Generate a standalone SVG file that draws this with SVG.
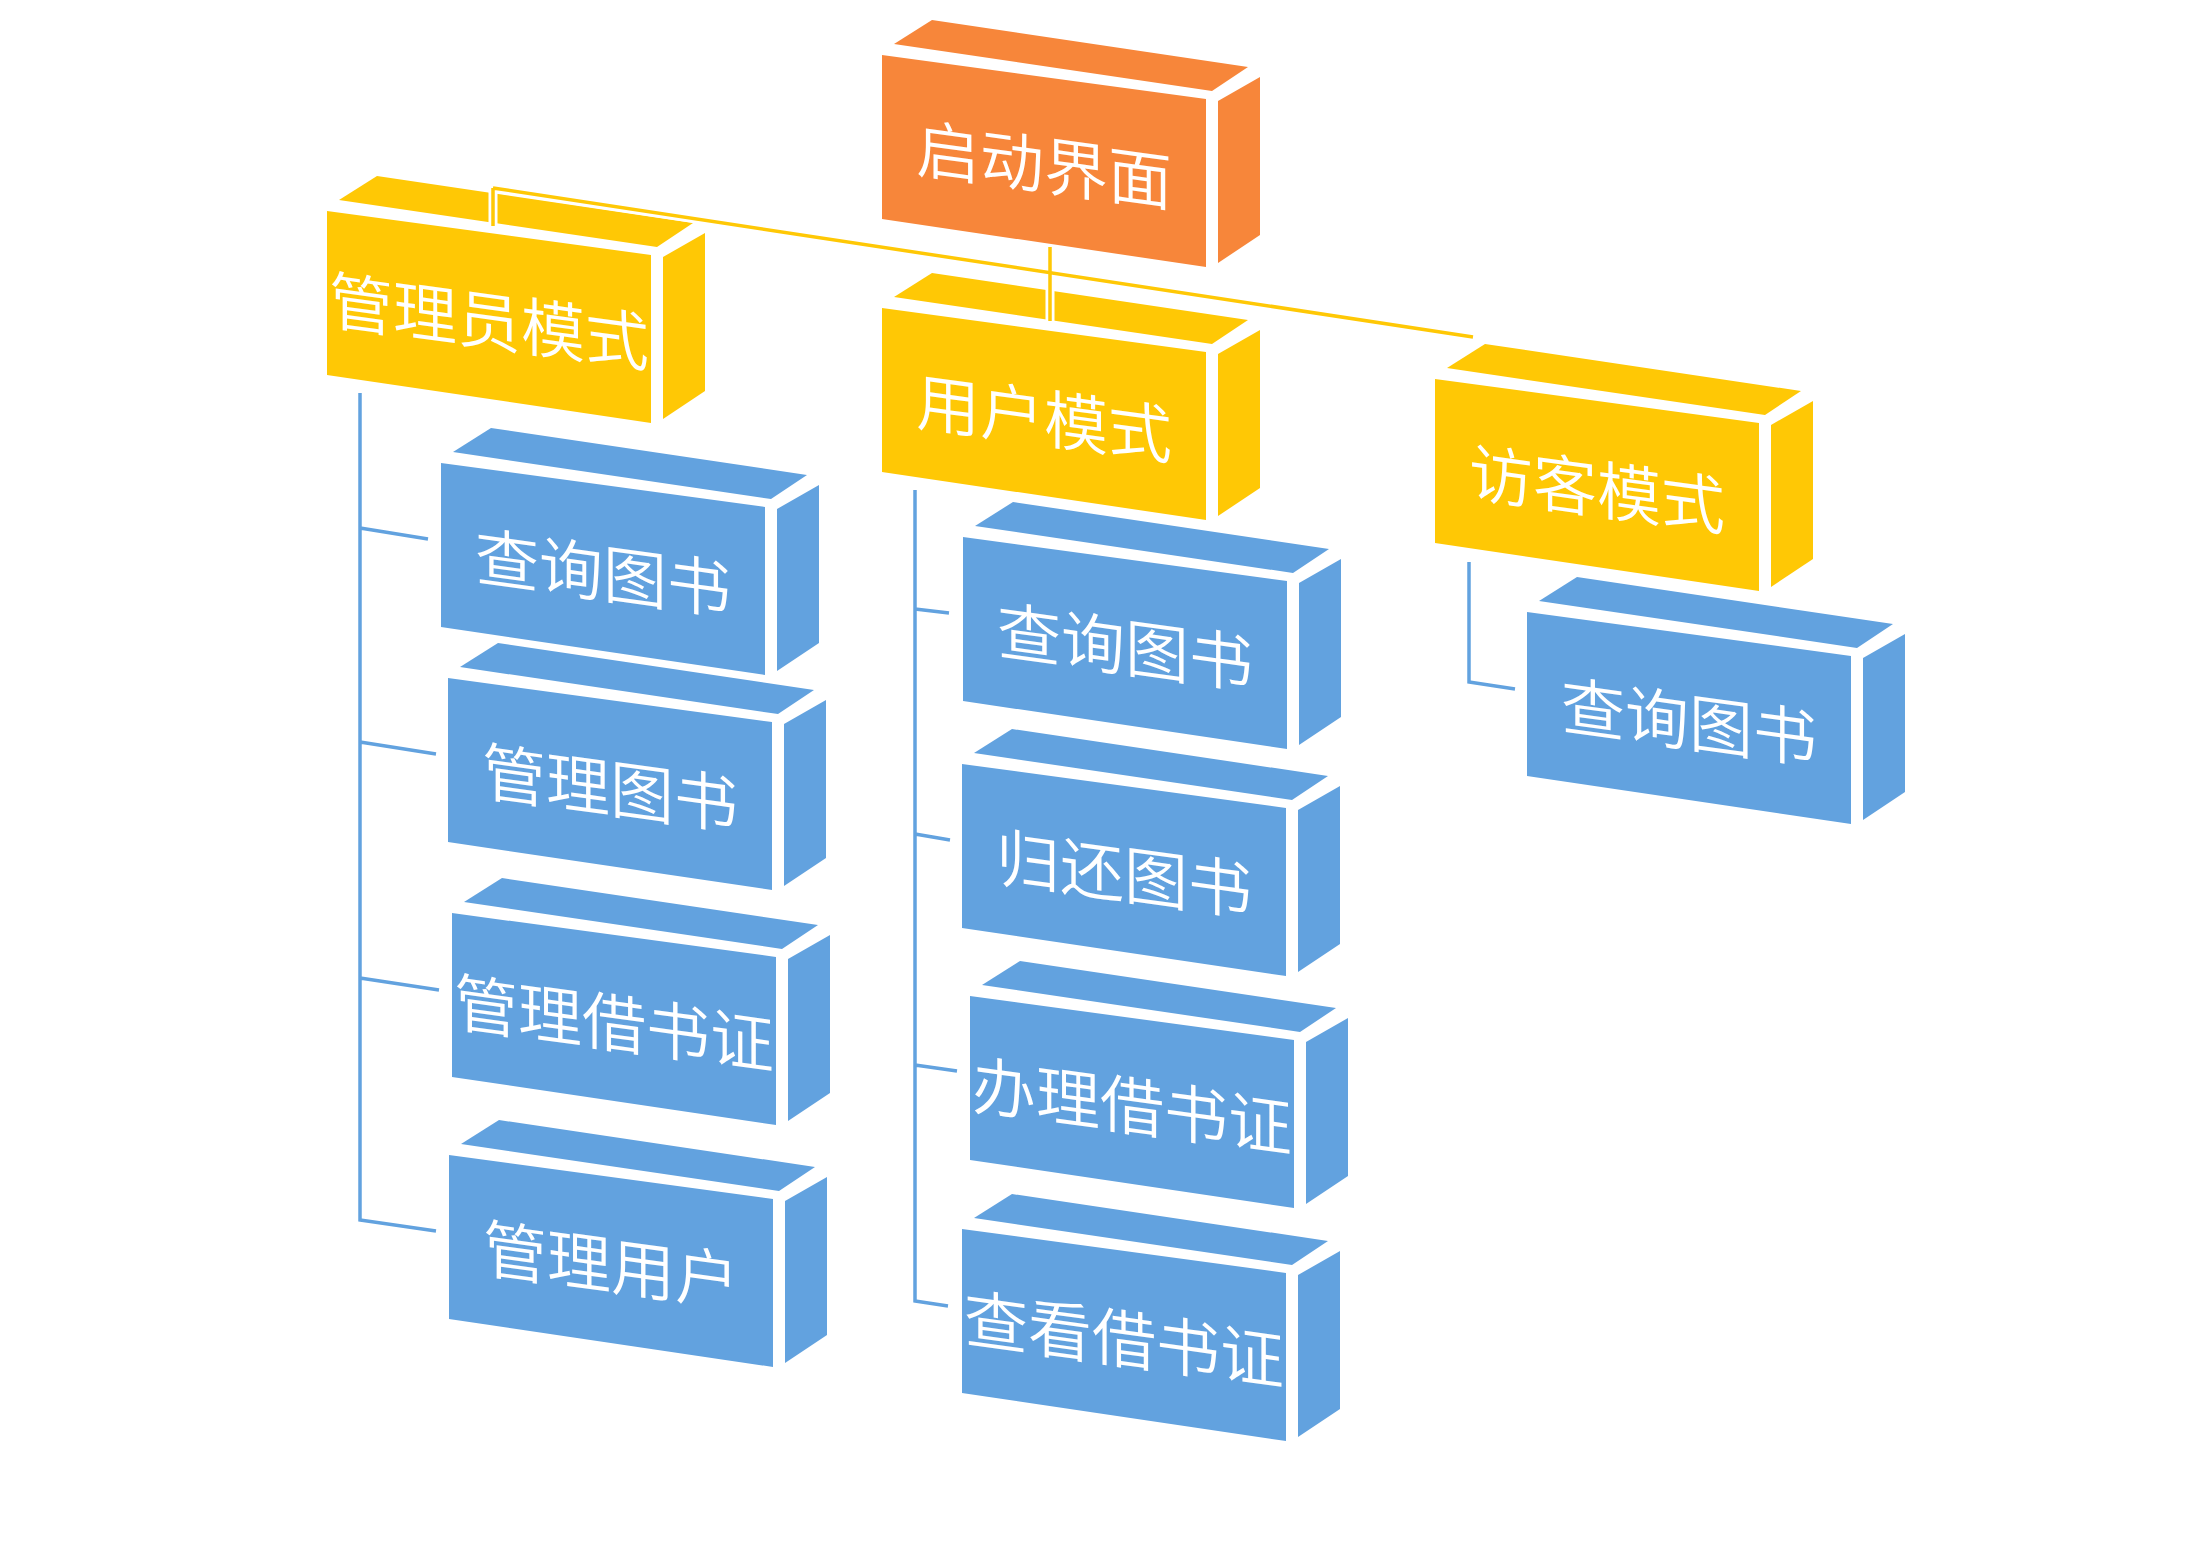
<svg xmlns="http://www.w3.org/2000/svg" xmlns:xlink="http://www.w3.org/1999/xlink" width="2193" height="1551" viewBox="0 0 2193 1551">
<style>
.lbl{font-family:"Noto Sans CJK SC","Noto Sans",sans-serif;font-size:64px;font-weight:350;fill:#FFFFFF;text-anchor:middle;dominant-baseline:central}
.orange{fill:#F7863A}
.yellow{fill:#FFC805}
.blue{fill:#62A2DF}
.halo{fill:#FFFFFF;stroke:#FFFFFF;stroke-width:12;stroke-linejoin:round}
.ylink{fill:none;stroke:#FFC805;stroke-width:3.5}
.blink{fill:none;stroke:#62A2DF;stroke-width:3.5}
.wlink{fill:none;stroke:#FFFFFF;stroke-width:9}
</style>
<defs>
<g id="box">
<polygon class="halo" points="0,0 12,-11 50,-35 366,12 378,22 378,180 336,208 324,212 0,164"/>
<polygon points="0,0 324,44 324,212 0,164"/>
<polygon points="12,-11 50,-35 366,12 330,36"/>
<polygon points="336,46 378,22 378,180 336,208"/>
</g>
</defs>
<rect x="0" y="0" width="2193" height="1551" fill="#FFFFFF"/>

<g id="node-admin-4">
<use xlink:href="#box" href="#box" class="blue" transform="translate(449,1155)"/>
<text class="lbl" transform="translate(449,1155) skewY(7.75)" x="162" y="84">管理用户</text>
</g>
<g id="node-admin-3">
<use xlink:href="#box" href="#box" class="blue" transform="translate(452,913)"/>
<text class="lbl" transform="translate(452,913) skewY(7.75)" x="162" y="84">管理借书证</text>
</g>
<g id="node-admin-2">
<use xlink:href="#box" href="#box" class="blue" transform="translate(448,678)"/>
<text class="lbl" transform="translate(448,678) skewY(7.75)" x="162" y="84">管理图书</text>
</g>
<g id="node-admin-1">
<use xlink:href="#box" href="#box" class="blue" transform="translate(441,463)"/>
<text class="lbl" transform="translate(441,463) skewY(7.75)" x="162" y="84">查询图书</text>
</g>
<g id="node-admin">
<use xlink:href="#box" href="#box" class="yellow" transform="translate(327,211)"/>
<text class="lbl" transform="translate(327,211) skewY(7.75)" x="162" y="84">管理员模式</text>
</g>

<g id="node-user-4">
<use xlink:href="#box" href="#box" class="blue" transform="translate(962,1229)"/>
<text class="lbl" transform="translate(962,1229) skewY(7.75)" x="162" y="84">查看借书证</text>
</g>
<g id="node-user-3">
<use xlink:href="#box" href="#box" class="blue" transform="translate(970,996)"/>
<text class="lbl" transform="translate(970,996) skewY(7.75)" x="162" y="84">办理借书证</text>
</g>
<g id="node-user-2">
<use xlink:href="#box" href="#box" class="blue" transform="translate(962,764)"/>
<text class="lbl" transform="translate(962,764) skewY(7.75)" x="162" y="84">归还图书</text>
</g>
<g id="node-user-1">
<use xlink:href="#box" href="#box" class="blue" transform="translate(963,537)"/>
<text class="lbl" transform="translate(963,537) skewY(7.75)" x="162" y="84">查询图书</text>
</g>
<g id="node-user">
<use xlink:href="#box" href="#box" class="yellow" transform="translate(882,308)"/>
<text class="lbl" transform="translate(882,308) skewY(7.75)" x="162" y="84">用户模式</text>
</g>

<g id="node-guest-1">
<use xlink:href="#box" href="#box" class="blue" transform="translate(1527,612)"/>
<text class="lbl" transform="translate(1527,612) skewY(7.75)" x="162" y="84">查询图书</text>
</g>
<g id="node-guest">
<use xlink:href="#box" href="#box" class="yellow" transform="translate(1435,379)"/>
<text class="lbl" transform="translate(1435,379) skewY(7.75)" x="162" y="84">访客模式</text>
</g>

<g id="node-root">
<use xlink:href="#box" href="#box" class="orange" transform="translate(882,55)"/>
<text class="lbl" transform="translate(882,55) skewY(7.75)" x="162" y="84">启动界面</text>
</g>

<g id="connectors">
<path class="wlink" d="M493,188 L1473,337 M493,188 V226 M1050,247 V321"/>
<path class="ylink" d="M493,188 L1473,337 M493,188 V226 M1050,247 V321"/>
<path class="blink" d="M360,393 V1220 L436,1231 M360,528 L428,539 M360,742 L436,754 M360,978 L439,990"/>
<path class="blink" d="M915,490 V1301 L948,1306 M915,609 L949,613 M915,834 L950,840 M915,1065 L957,1071"/>
<path class="blink" d="M1469,562 V682 L1515,689"/>
</g>
</svg>
